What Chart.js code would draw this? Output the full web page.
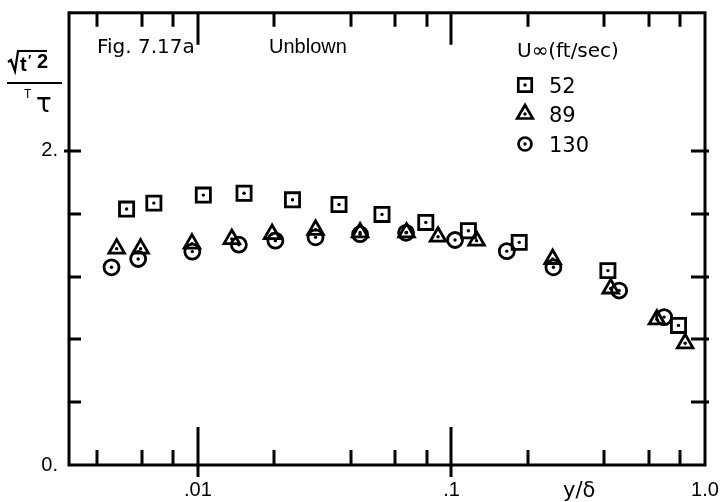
<!DOCTYPE html>
<html>
<head>
<meta charset="utf-8">
<script src="https://cdn.jsdelivr.net/npm/chart.js@4.4.1/dist/chart.umd.min.js"></script>
<style>
  html, body { margin: 0; padding: 0; background: #fff; }
  canvas { display: block; }
</style>
</head>
<body>
<canvas id="c" width="726" height="502"></canvas>
<script>
// ---- data ----
const X_SQUARES = [0.00523, 0.0067, 0.0105, 0.0152, 0.0236, 0.036, 0.0532, 0.0792, 0.1166, 0.185, 0.414, 0.786];
const Y_SQUARES = [1.630, 1.668, 1.719, 1.731, 1.689, 1.659, 1.596, 1.545, 1.492, 1.418, 1.238, 0.889];

const X_TRIANGLES = [0.00478, 0.00594, 0.00947, 0.0136, 0.0196, 0.0291, 0.0436, 0.0665, 0.0885, 0.1256, 0.2506, 0.4246, 0.646, 0.835];
const Y_TRIANGLES = [1.378, 1.378, 1.410, 1.439, 1.471, 1.498, 1.481, 1.481, 1.454, 1.429, 1.312, 1.124, 0.927, 0.775];

const X_CIRCLES = [0.00456, 0.00581, 0.0095, 0.0145, 0.0202, 0.0291, 0.0436, 0.0662, 0.1033, 0.1653, 0.2524, 0.4586, 0.690];
const Y_CIRCLES = [1.259, 1.312, 1.359, 1.403, 1.429, 1.450, 1.470, 1.479, 1.433, 1.362, 1.259, 1.111, 0.942];

const SERIES_LABELS = ['52', '89', '130'];
const LEGEND_TITLE = 'U\u221E(ft/sec)';

const X_TICKS = [0.004, 0.006, 0.008, 0.01, 0.02, 0.04, 0.06, 0.08, 0.1, 0.2, 0.4, 0.6, 0.8, 1.0];
const X_TICK_LABELS = ['', '', '', '.01', '', '', '', '', '.1', '', '', '', '', '1.0'];
const X_MAJOR = [0.01, 0.1];
const Y_TICKS = [0, 0.4, 0.8, 1.2, 1.6, 2.0];
const Y_TICK_LABELS = ['0.', '', '', '', '', '2.'];

const FIG_LABEL = 'Fig. 7.17a';
const CASE_LABEL = 'Unblown';
const X_TITLE = 'y/\u03B4';

// ---- build ----
const pts = (xs, ys) => xs.map((x, i) => ({ x: x, y: ys[i] }));
const STYLES = ['rect', 'triangle', 'circle'];
const RADII = [10, 9, 7.5];

function marker(ctx, style, x, y, r) {
  ctx.beginPath();
  if (style === 'rect') {
    const s = Math.SQRT1_2 * r;
    ctx.rect(x - s, y - s, 2 * s, 2 * s);
  } else if (style === 'triangle') {
    for (let k = 0; k < 3; k++) {
      const a = k * 2 * Math.PI / 3;
      const px = x + Math.sin(a) * r, py = y - Math.cos(a) * r;
      if (k === 0) ctx.moveTo(px, py); else ctx.lineTo(px, py);
    }
    ctx.closePath();
  } else {
    ctx.arc(x, y, r, 0, Math.PI * 2);
  }
  ctx.stroke();
  ctx.beginPath();
  ctx.arc(x, y, 1.7, 0, Math.PI * 2);
  ctx.fill();
}

const decor = {
  id: 'decor',
  afterDatasetsDraw(chart) {
    const ctx = chart.ctx;
    ctx.save();
    ctx.fillStyle = '#000';
    chart.data.datasets.forEach((ds, i) => {
      chart.getDatasetMeta(i).data.forEach(p => {
        ctx.beginPath();
        ctx.arc(p.x, p.y, 1.7, 0, Math.PI * 2);
        ctx.fill();
      });
    });
    ctx.restore();
  },
  afterDraw(chart) {
    const { ctx, chartArea: a, scales } = chart;
    const xs = scales.x, ys = scales.y;
    ctx.save();
    ctx.strokeStyle = '#000';
    ctx.fillStyle = '#000';
    ctx.lineWidth = 3;
    ctx.lineCap = 'square';
    ctx.strokeRect(a.left, a.top, a.right - a.left, a.bottom - a.top);
    ctx.lineCap = 'butt';
    // x ticks (inward, bottom and top)
    X_TICKS.forEach(v => {
      if (v >= 1) return;
      const px = Math.round(xs.getPixelForValue(v));
      const major = X_MAJOR.includes(v);
      ctx.beginPath();
      if (major) {
        ctx.moveTo(px, a.bottom + 12); ctx.lineTo(px, a.bottom - 38);
        ctx.moveTo(px, a.top); ctx.lineTo(px, a.top + 32);
      } else {
        ctx.moveTo(px, a.bottom); ctx.lineTo(px, a.bottom - 15);
        ctx.moveTo(px, a.top); ctx.lineTo(px, a.top + 14);
      }
      ctx.stroke();
    });
    // y ticks (inward, left and right)
    Y_TICKS.forEach(v => {
      if (v === 0) return;
      const py = Math.round(ys.getPixelForValue(v));
      ctx.beginPath();
      const out = (v === 2.0) ? 5 : 0;
      ctx.moveTo(a.left - out, py); ctx.lineTo(a.left + 12, py);
      ctx.moveTo(a.right + 4, py); ctx.lineTo(a.right - 14, py);
      ctx.stroke();
    });
    // annotations
    ctx.textBaseline = 'alphabetic';
    ctx.textAlign = 'left';
    ctx.font = '20px "DejaVu Sans"';
    ctx.fillText(FIG_LABEL, 97, 53);
    ctx.font = '20px "Liberation Sans"';
    ctx.fillText(CASE_LABEL, 269, 53);
    // legend
    ctx.font = '20px "DejaVu Sans"';
    ctx.fillText(LEGEND_TITLE, 517, 57);
    const ly = [85, 114, 144];
    ctx.lineWidth = 2.7;
    chart.data.datasets.forEach((ds, i) => {
      marker(ctx, ds.pointStyle, 525, ly[i], [9.5, 9, 6.5][i]);
      ctx.font = '21px "DejaVu Sans"';
      ctx.fillText(ds.label, 549, ly[i] + 8);
    });
    // x title
    ctx.font = '21px "DejaVu Sans"';
    ctx.fillText(X_TITLE, 563, 497);
    // y title: sqrt(t'^2) / T_tau
    ctx.lineWidth = 2.2;
    ctx.beginPath();
    ctx.moveTo(8, 62); ctx.lineTo(11, 60); ctx.lineTo(15, 71); ctx.lineTo(18, 51); ctx.lineTo(47, 51);
    ctx.stroke();
    ctx.font = 'bold 20px "Liberation Sans"';
    ctx.fillText('t', 20, 71);
    ctx.font = 'bold 14px "Liberation Sans"';
    ctx.fillText('\u2032', 28, 65);
    ctx.font = 'bold 20px "Liberation Sans"';
    ctx.fillText('2', 37, 68);
    ctx.beginPath();
    ctx.moveTo(7, 83); ctx.lineTo(62, 83);
    ctx.stroke();
    ctx.font = '12px "Liberation Sans"';
    ctx.fillText('T', 24, 98);
    ctx.font = '26px "DejaVu Sans"';
    ctx.fillText('\u03C4', 36, 112);
    ctx.restore();
  }
};

const datasets = [
  { label: SERIES_LABELS[0], data: pts(X_SQUARES, Y_SQUARES) },
  { label: SERIES_LABELS[1], data: pts(X_TRIANGLES, Y_TRIANGLES) },
  { label: SERIES_LABELS[2], data: pts(X_CIRCLES, Y_CIRCLES) }
].map((d, i) => Object.assign(d, {
  pointStyle: STYLES[i],
  pointRadius: RADII[i],
  pointBorderColor: '#000',
  pointBackgroundColor: 'rgba(0,0,0,0)',
  pointBorderWidth: 2.8,
  showLine: false
}));

new Chart(document.getElementById('c'), {
  type: 'scatter',
  data: { datasets: datasets },
  options: {
    responsive: false,
    devicePixelRatio: 1,
    animation: false,
    layout: { padding: { top: 12, right: 21, left: 0, bottom: 0 } },
    plugins: { legend: { display: false }, tooltip: { enabled: false } },
    scales: {
      x: {
        type: 'logarithmic',
        min: 0.0031, max: 1.0,
        grid: { display: false, drawTicks: false },
        border: { display: false },
        afterBuildTicks: s => { s.ticks = X_TICKS.map(v => ({ value: v })); },
        afterFit: s => { s.height = 37; s.paddingLeft = 0; s.paddingRight = 0; },
        ticks: {
          autoSkip: false, maxRotation: 0, minRotation: 0,
          padding: 13, color: '#000',
          font: { family: 'Liberation Sans', size: 20 },
          callback: (v, i) => X_TICK_LABELS[i]
        }
      },
      y: {
        type: 'linear',
        min: 0, max: 2.88,
        grid: { display: false, drawTicks: false },
        border: { display: false },
        afterBuildTicks: s => { s.ticks = Y_TICKS.map(v => ({ value: v })); },
        afterFit: s => { s.width = 69; s.paddingTop = 0; s.paddingBottom = 0; },
        ticks: {
          padding: 11, color: '#000',
          font: { family: 'Liberation Sans', size: 20 },
          callback: (v, i) => Y_TICK_LABELS[i]
        }
      }
    }
  },
  plugins: [decor]
});
</script>
</body>
</html>
